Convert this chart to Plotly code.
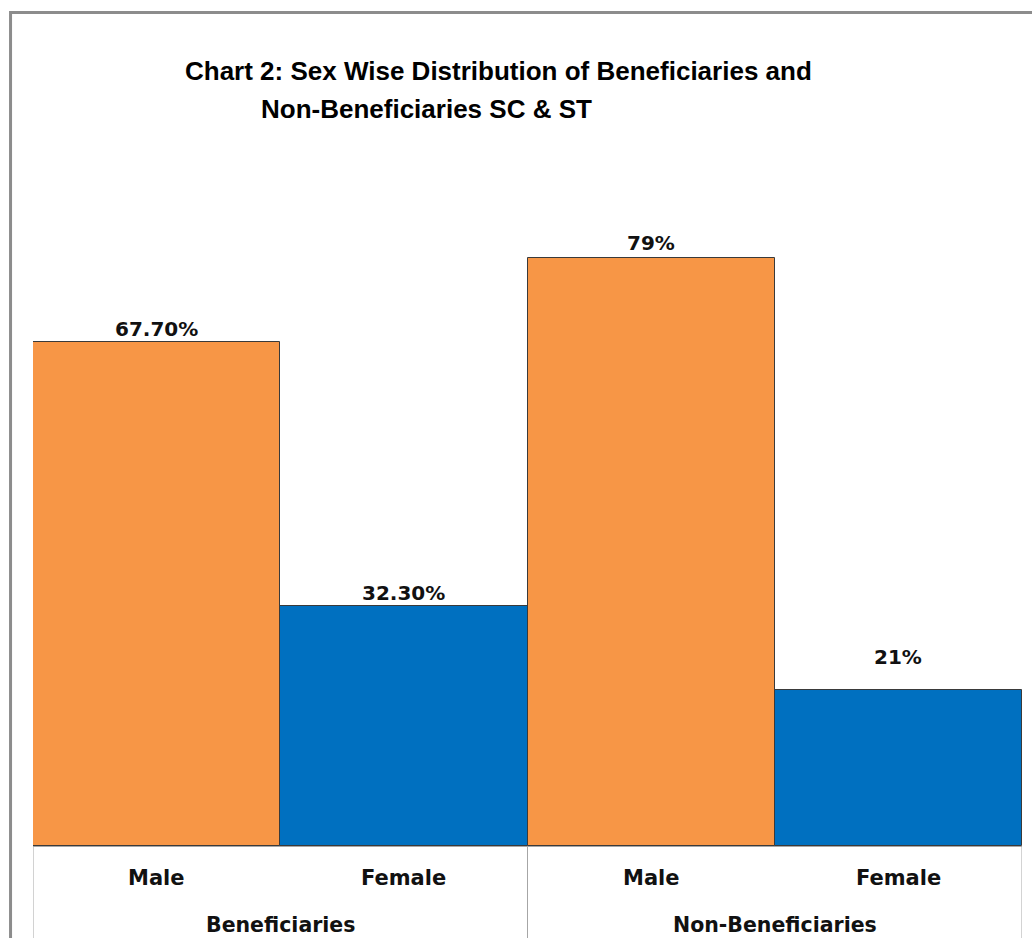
import plotly.graph_objects as go

# Chart data
groups = ["Beneficiaries", "Beneficiaries", "Non-Beneficiaries", "Non-Beneficiaries"]
sexes = ["Male", "Female", "Male", "Female"]
values = [67.7, 32.3, 79, 21]
value_labels = ["67.70%", "32.30%", "79%", "21%"]
group_names = ["Beneficiaries", "Non-Beneficiaries"]

# Styling
sex_colors = {"Male": "#F79646", "Female": "#0070C0"}
label_lift = [13, 13, 15, 33]  # px between bar top and label centre
label_font = "DejaVu Sans"
title_font = "Liberation Sans"

positions = list(range(len(values)))

fig = go.Figure()
fig.add_trace(go.Bar(
    x=positions,
    y=values,
    width=1.0,
    marker=dict(color=[sex_colors[s] for s in sexes],
                line=dict(color="#3a3a3a", width=1)),
    hoverinfo="skip",
    showlegend=False,
))

annotations = []
# value labels above bars
for xp, v, txt, lift in zip(positions, values, value_labels, label_lift):
    annotations.append(dict(x=xp, y=v, xref="x", yref="y", text=f"<b>{txt}</b>",
                            showarrow=False, yanchor="middle", yshift=lift,
                            font=dict(family=label_font, size=20, color="#111111")))
# inner category labels
for xp, s in zip(positions, sexes):
    annotations.append(dict(x=xp, y=0, xref="x", yref="y", text=f"<b>{s}</b>",
                            showarrow=False, yanchor="middle", yshift=-32,
                            font=dict(family=label_font, size=21, color="#111111")))
# outer group labels
for g in group_names:
    idx = [i for i, gg in enumerate(groups) if gg == g]
    center = sum(positions[i] for i in idx) / len(idx)
    annotations.append(dict(x=center, y=0, xref="x", yref="y", text=f"<b>{g}</b>",
                            showarrow=False, yanchor="middle", yshift=-79,
                            font=dict(family=label_font, size=20.5, color="#111111")))
# title
annotations.append(dict(x=0.1517, y=1.0417, xref="paper", yref="paper", xanchor="left",
                        yanchor="middle", showarrow=False,
                        text="<b>Chart 2: Sex Wise Distribution of Beneficiaries and</b>",
                        font=dict(family=title_font, size=26, color="#000000")))
annotations.append(dict(x=0.2285, y=0.9906, xref="paper", yref="paper", xanchor="left",
                        yanchor="middle", showarrow=False,
                        text="<b>Non-Beneficiaries SC &amp; ST</b>",
                        font=dict(family=title_font, size=26, color="#000000")))

shapes = []
# chart frame (left and top edges visible)
shapes.append(dict(type="rect", xref="paper", yref="paper",
                   x0=-0.0227, x1=1.2, y0=-0.3, y1=1.1203,
                   line=dict(color="#8c8c8c", width=3), fillcolor="rgba(0,0,0,0)"))
# group dividers of the category axis
for xd in [-0.5, 1.5, 3.5]:
    shapes.append(dict(type="line", xref="x", yref="paper", x0=xd, x1=xd, y0=0, y1=-0.2,
                       line=dict(color="#a6a6a6", width=1)))

fig.update_layout(
    width=1032, height=938,
    margin=dict(l=33, r=10, t=102, b=92),
    paper_bgcolor="white", plot_bgcolor="white",
    bargap=0,
    xaxis=dict(range=[-0.5, 3.5], showticklabels=False, ticks="", showgrid=False,
               zeroline=False, showline=True, linecolor="#a6a6a6", linewidth=1, fixedrange=True),
    yaxis=dict(range=[0, 100], showticklabels=False, ticks="", showgrid=False,
               zeroline=False, showline=False, fixedrange=True),
    annotations=annotations,
    shapes=shapes,
)

fig.write_html("out.html")
